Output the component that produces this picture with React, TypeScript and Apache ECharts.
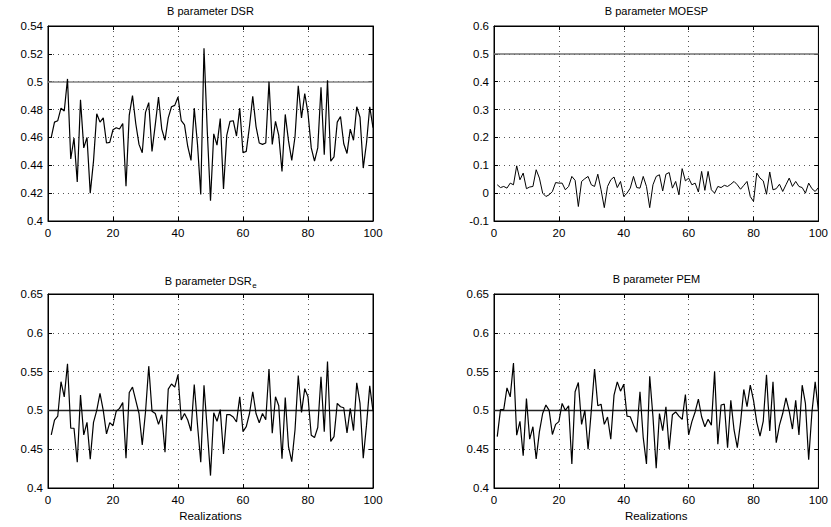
import React, { useEffect, useRef } from "react";
import * as echarts from "echarts";

const realizations: number[] = Array.from({ length: 100 }, (_, i) => i + 1);

const dsrB: number[] = [
  0.460, 0.471, 0.472, 0.481, 0.479, 0.502, 0.4445, 0.4596, 0.428, 0.487,
  0.4525, 0.460, 0.420, 0.443, 0.477, 0.471, 0.474, 0.456, 0.4565, 0.4655,
  0.467, 0.466, 0.470, 0.425, 0.476, 0.490, 0.470, 0.455, 0.449, 0.478,
  0.485, 0.450, 0.469, 0.489, 0.466, 0.458, 0.474, 0.482, 0.483, 0.489,
  0.472, 0.469, 0.4535, 0.4435, 0.481, 0.455, 0.419, 0.524, 0.465, 0.4145,
  0.4626, 0.4545, 0.4735, 0.423, 0.4615, 0.4715, 0.472, 0.461, 0.481, 0.449,
  0.450, 0.468, 0.4895, 0.468, 0.456, 0.455, 0.456, 0.500, 0.455, 0.4715,
  0.4615, 0.4355, 0.4765, 0.4575, 0.4435, 0.4605, 0.497, 0.474, 0.4915, 0.4775,
  0.4525, 0.443, 0.4525, 0.496, 0.4475, 0.501, 0.443, 0.446, 0.471, 0.475,
  0.4555, 0.4485, 0.466, 0.458, 0.482, 0.4745, 0.438, 0.456, 0.482, 0.467,
];

const moespB: number[] = [
  0.030, 0.020, 0.024, 0.018, 0.036, 0.030, 0.098, 0.048, 0.072, 0.016,
  0.022, 0.024, 0.084, 0.054, 0.000, -0.012, -0.006, 0.006, 0.038, 0.036,
  0.036, 0.012, 0.024, 0.060, 0.046, -0.048, 0.042, 0.052, 0.060, 0.030,
  0.024, 0.068, 0.012, -0.052, 0.024, 0.048, 0.058, 0.020, 0.042, -0.012,
  0.000, 0.018, 0.060, 0.020, 0.018, 0.060, 0.024, -0.052, 0.030, 0.060,
  0.066, 0.008, 0.068, 0.074, 0.018, 0.042, -0.006, 0.088, 0.044, 0.054,
  0.030, 0.036, 0.004, 0.078, 0.010, 0.078, 0.012, 0.000, 0.024, 0.020,
  0.028, 0.024, 0.032, 0.042, 0.030, 0.014, 0.028, 0.042, -0.012, -0.030,
  0.072, 0.054, 0.044, -0.004, 0.076, 0.012, 0.016, 0.032, 0.006, 0.030,
  0.054, 0.024, 0.042, 0.024, 0.020, 0.000, 0.036, 0.016, 0.006, 0.020,
];

const dsreB: number[] = [
  0.4684, 0.4876, 0.4927, 0.537, 0.5175, 0.560, 0.477, 0.477, 0.4333, 0.5197,
  0.4684, 0.4846, 0.4372, 0.4846, 0.500, 0.5218, 0.500, 0.4697, 0.4842, 0.4803,
  0.499, 0.5026, 0.510, 0.4385, 0.523, 0.530, 0.513, 0.496, 0.4556, 0.498,
  0.557, 0.499, 0.496, 0.482, 0.4944, 0.446, 0.5274, 0.534, 0.530, 0.546,
  0.4876, 0.496, 0.4876, 0.4735, 0.5333, 0.4812, 0.4333, 0.5325, 0.475, 0.416,
  0.497, 0.486, 0.501, 0.444, 0.4945, 0.4945, 0.4915, 0.485, 0.5175, 0.4726,
  0.479, 0.496, 0.524, 0.496, 0.484, 0.496, 0.488, 0.5534, 0.4705, 0.5175,
  0.506, 0.4376, 0.5167, 0.4534, 0.434, 0.4748, 0.545, 0.4974, 0.528, 0.5175,
  0.468, 0.465, 0.478, 0.5432, 0.4726, 0.563, 0.460, 0.4662, 0.509, 0.5047,
  0.5034, 0.471, 0.5026, 0.474, 0.5355, 0.509, 0.4385, 0.481, 0.5316, 0.499,
];

const pemB: number[] = [
  0.4662, 0.501, 0.501, 0.529, 0.5175, 0.561, 0.468, 0.486, 0.4415, 0.5154,
  0.463, 0.479, 0.4376, 0.4726, 0.496, 0.507, 0.500, 0.469, 0.482, 0.4855,
  0.509, 0.500, 0.506, 0.431, 0.524, 0.536, 0.482, 0.500, 0.450, 0.500,
  0.5534, 0.506, 0.508, 0.482, 0.4915, 0.4628, 0.5197, 0.5368, 0.5248, 0.5338,
  0.4927, 0.4918, 0.481, 0.4718, 0.524, 0.465, 0.431, 0.544, 0.492, 0.4256,
  0.496, 0.474, 0.5047, 0.4504, 0.4945, 0.498, 0.4927, 0.4885, 0.5205, 0.4684,
  0.4855, 0.498, 0.5145, 0.4918, 0.479, 0.4885, 0.481, 0.550, 0.4564, 0.507,
  0.508, 0.452, 0.513, 0.4748, 0.452, 0.4846, 0.527, 0.5047, 0.5325, 0.513,
  0.4846, 0.467, 0.4863, 0.546, 0.4735, 0.5368, 0.4585, 0.481, 0.496, 0.516,
  0.499, 0.476, 0.513, 0.4684, 0.5325, 0.509, 0.4363, 0.4974, 0.5368, 0.500,
];

const trueValue = 0.5;
const xTicks = { min: 0, max: 100, interval: 20 };

const FONT = "'Liberation Sans', Arial, Helvetica, sans-serif";

type Panel = {
  title: string;
  subscript?: string;
  values: number[];
  yMin: number;
  yMax: number;
  yInterval: number;
  rect: { left: number; top: number; width: number; height: number };
  refColor: string;
  refWidth: number;
  lineWidth: number;
  xName: string;
};

const panels: Panel[] = [
  {
    title: "B parameter DSR",
    values: dsrB,
    yMin: 0.4, yMax: 0.54, yInterval: 0.02,
    rect: { left: 48, top: 26, width: 325, height: 195 },
    refColor: "#808080", refWidth: 1.6, lineWidth: 1.2, xName: "",
  },
  {
    title: "B parameter MOESP",
    values: moespB,
    yMin: -0.1, yMax: 0.6, yInterval: 0.1,
    rect: { left: 494, top: 26, width: 325, height: 195 },
    refColor: "#707070", refWidth: 1.6, lineWidth: 1, xName: "",
  },
  {
    title: "B parameter DSR",
    subscript: "e",
    values: dsreB,
    yMin: 0.4, yMax: 0.65, yInterval: 0.05,
    rect: { left: 48, top: 294, width: 325, height: 194 },
    refColor: "#222", refWidth: 1.3, lineWidth: 1.2, xName: "Realizations",
  },
  {
    title: "B parameter PEM",
    values: pemB,
    yMin: 0.4, yMax: 0.65, yInterval: 0.05,
    rect: { left: 494, top: 294, width: 325, height: 194 },
    refColor: "#222", refWidth: 1.3, lineWidth: 1.2, xName: "Realizations",
  },
];

function measure(text: string, size: number): number {
  const c = document.createElement("canvas").getContext("2d");
  if (!c) return text.length * size * 0.55;
  c.font = `${size}px 'Liberation Sans', Arial, sans-serif`;
  return c.measureText(text).width;
}

function buildOption() {
  const grid: any[] = [];
  const xAxis: any[] = [];
  const yAxis: any[] = [];
  const series: any[] = [];
  const graphic: any[] = [];

  const tick = { inside: true, length: 4, lineStyle: { color: "#000", width: 1 } };
  const split = { show: true, lineStyle: { type: [1, 4], color: "#555", width: 1 } };
  const label = { color: "#000", fontSize: 11.5, fontFamily: FONT };

  panels.forEach((p, g) => {
    grid.push({
      ...p.rect,
      show: true,
      borderColor: "#000",
      borderWidth: 1,
      backgroundColor: "transparent",
    });
    xAxis.push({
      gridIndex: g, type: "value", position: "bottom",
      ...xTicks,
      axisLine: { show: true, onZero: false, lineStyle: { color: "#000" } },
      axisTick: tick,
      axisLabel: { ...label, margin: 6 },
      splitLine: split,
      name: p.xName,
      nameLocation: "middle",
      nameGap: 22,
      nameTextStyle: { color: "#000", fontSize: 11.5, fontFamily: FONT },
    });
    xAxis.push({
      gridIndex: g, type: "value", position: "top",
      ...xTicks,
      axisLine: { show: true, onZero: false, lineStyle: { color: "#000" } },
      axisTick: tick,
      axisLabel: { show: false },
      splitLine: { show: false },
    });
    yAxis.push({
      gridIndex: g, type: "value", position: "left",
      min: p.yMin, max: p.yMax, interval: p.yInterval,
      axisLine: { show: true, onZero: false, lineStyle: { color: "#000" } },
      axisTick: tick,
      axisLabel: { ...label, margin: 5 },
      splitLine: split,
    });
    yAxis.push({
      gridIndex: g, type: "value", position: "right",
      min: p.yMin, max: p.yMax, interval: p.yInterval,
      axisLine: { show: true, onZero: false, lineStyle: { color: "#000" } },
      axisTick: tick,
      axisLabel: { show: false },
      splitLine: { show: false },
    });
    series.push({
      type: "line",
      xAxisIndex: 2 * g,
      yAxisIndex: 2 * g,
      data: realizations.map((x, i) => [x, p.values[i]]),
      symbol: "none",
      showSymbol: false,
      lineStyle: { color: "#000", width: p.lineWidth },
      z: 3,
      markLine: {
        silent: true,
        symbol: "none",
        label: { show: false },
        lineStyle: { color: p.refColor, width: p.refWidth, type: "solid" },
        data: [{ yAxis: trueValue }],
        z: 2,
      },
    });

    const cx = p.rect.left + p.rect.width / 2;
    if (p.subscript) {
      const w1 = measure(p.title, 11);
      const w2 = measure(p.subscript, 8);
      const start = cx - (w1 + w2) / 2;
      graphic.push({
        type: "text",
        x: start,
        y: p.rect.top - 13,
        style: {
          text: p.title,
          align: "left",
          verticalAlign: "middle",
          fontSize: 11,
          fontFamily: FONT,
          fill: "#000",
        },
      });
      graphic.push({
        type: "text",
        x: start + w1 + 0.5,
        y: p.rect.top - 9,
        style: {
          text: p.subscript,
          align: "left",
          verticalAlign: "middle",
          fontSize: 8,
          fontFamily: FONT,
          fill: "#000",
        },
      });
    } else {
      graphic.push({
        type: "text",
        x: cx,
        y: p.rect.top - 15,
        style: {
          text: p.title,
          align: "center",
          verticalAlign: "middle",
          fontSize: 11,
          fontFamily: FONT,
          fill: "#000",
        },
      });
    }
  });

  return {
    animation: false,
    backgroundColor: "#fff",
    grid,
    xAxis,
    yAxis,
    series,
    graphic,
  };
}

export default function App() {
  const ref = useRef<HTMLDivElement>(null);
  useEffect(() => {
    if (!ref.current) return;
    const chart = echarts.init(ref.current, undefined, { renderer: "svg" });
    chart.setOption(buildOption() as any);
    return () => chart.dispose();
  }, []);
  return (
    <div
      ref={ref}
      style={{ position: "absolute", left: 0, top: 0, width: 831, height: 527 }}
    />
  );
}
